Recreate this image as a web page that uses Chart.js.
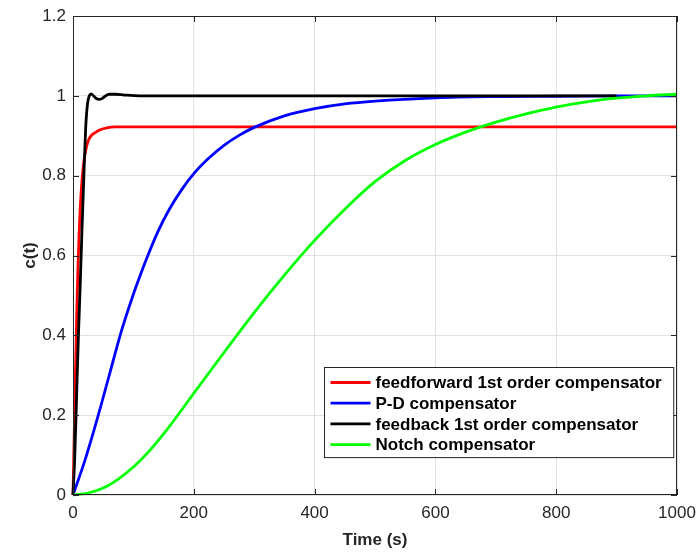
<!DOCTYPE html>
<html>
<head>
<meta charset="utf-8">
<script src="https://cdn.jsdelivr.net/npm/chart.js@4.4.0/dist/chart.umd.min.js"></script>
<style>
  html, body { margin: 0; padding: 0; background: #fff; }
  #wrap { width: 697px; height: 553px; }
</style>
</head>
<body>
<div id="wrap"><canvas id="chart" width="697" height="553"></canvas></div>
<script>
// step responses (time in s, c(t))
const seriesNames = [
  'feedforward 1st order compensator',
  'P-D compensator',
  'feedback 1st order compensator',
  'Notch compensator',
];

const redT = [0, 2, 4, 6, 8, 10, 12, 15, 18, 22, 26, 30, 36, 45, 56, 70, 100, 1000];
const redC = [0, 0.15, 0.3, 0.44, 0.56, 0.65, 0.72, 0.79, 0.835, 0.87, 0.89, 0.9, 0.907, 0.915, 0.92, 0.922, 0.922, 0.922];

const blueT = [0, 20, 40, 60, 80, 100, 110, 120, 140, 160, 180, 200, 225, 250, 275, 300, 350, 400, 450, 500, 600, 700, 800, 900, 1000];
const blueC = [0, 0.088, 0.19, 0.3, 0.41, 0.503, 0.545, 0.585, 0.658, 0.717, 0.765, 0.805, 0.844, 0.876, 0.901, 0.921, 0.95, 0.968, 0.98, 0.987, 0.995, 0.998, 0.999, 1.0, 1.0];

const blackT = [0, 3, 6, 9, 12, 15, 18, 21, 24, 27, 30, 34, 38, 43, 48, 54, 60, 70, 85, 110, 900];
const blackC = [0, 0.1, 0.25, 0.4, 0.53, 0.67, 0.8, 0.92, 0.98, 1.0, 1.005, 1.0, 0.994, 0.991, 0.993, 1.0, 1.004, 1.004, 1.002, 1.0, 1.0];

const greenT = [0, 25, 50, 75, 100, 125, 150, 175, 200, 250, 300, 350, 400, 450, 500, 550, 600, 650, 700, 750, 800, 850, 900, 950, 1000];
const greenC = [0, 0.005, 0.0175, 0.04, 0.07, 0.108, 0.153, 0.203, 0.255, 0.357, 0.457, 0.551, 0.638, 0.716, 0.785, 0.838, 0.878, 0.909, 0.934, 0.955, 0.972, 0.985, 0.994, 1.0, 1.004];

const seriesColors = ['#ff0000', '#0000ff', '#000000', '#00ff00'];

const xTicks = [0, 200, 400, 600, 800, 1000];
const yTicks = [0, 0.2, 0.4, 0.6, 0.8, 1, 1.2];

const FONT = '"Liberation Sans", Arial, Helvetica, sans-serif';
const AXIS = '#262626';

function toPoints(ts, cs) {
  return ts.map((t, i) => ({ x: t, y: cs[i] }));
}

function makeDataset(i, ts, cs, order) {
  return {
    label: seriesNames[i],
    data: toPoints(ts, cs),
    borderColor: seriesColors[i],
    backgroundColor: seriesColors[i],
    borderWidth: 2.8,
    pointRadius: 0,
    cubicInterpolationMode: 'monotone',
    clip: 3,
    order,
  };
}

// box with inward ticks on all four sides, like the original figure
const boxPlugin = {
  id: 'axisBox',
  afterDatasetsDraw(chart) {
    const { ctx, chartArea: a, scales } = chart;
    const len = 6;
    ctx.save();
    ctx.strokeStyle = AXIS;
    ctx.lineWidth = 1;
    ctx.beginPath();
    xTicks.forEach((v) => {
      const px = Math.round(scales.x.getPixelForValue(v)) + 0.5;
      ctx.moveTo(px, a.bottom); ctx.lineTo(px, a.bottom - len);
      ctx.moveTo(px, a.top); ctx.lineTo(px, a.top + len);
    });
    yTicks.forEach((v) => {
      const py = Math.round(scales.y.getPixelForValue(v)) + 0.5;
      ctx.moveTo(a.left, py); ctx.lineTo(a.left + len, py);
      ctx.moveTo(a.right, py); ctx.lineTo(a.right - len, py);
    });
    ctx.stroke();
    ctx.strokeRect(Math.round(a.left) + 0.5, Math.round(a.top) + 0.5,
      Math.round(a.width) - 1, Math.round(a.height) - 1);
    ctx.restore();
  },
};

// legend box inside the axes, lower right
const legendPlugin = {
  id: 'boxLegend',
  afterDraw(chart) {
    const { ctx, chartArea: a } = chart;
    ctx.save();
    ctx.font = 'bold 17px ' + FONT;
    const textW = Math.max(...seriesNames.map((n) => ctx.measureText(n).width));
    const rowH = 20.7;
    const boxW = 51 + textW + 12;
    const boxH = 15 + rowH * (seriesNames.length - 1) + 13;
    const right = a.right - 4;
    const bottom = a.bottom - 38;
    const left = Math.round(right - boxW) + 0.5;
    const top = Math.round(bottom - boxH) + 0.5;
    ctx.fillStyle = '#fff';
    ctx.fillRect(left, top, boxW, boxH);
    ctx.strokeStyle = AXIS;
    ctx.lineWidth = 1;
    ctx.strokeRect(left, top, boxW, boxH);
    ctx.textBaseline = 'middle';
    seriesNames.forEach((name, i) => {
      const y = top + 15 + i * rowH;
      ctx.strokeStyle = seriesColors[i];
      ctx.lineWidth = 2.8;
      ctx.beginPath();
      ctx.moveTo(left + 6, y);
      ctx.lineTo(left + 46, y);
      ctx.stroke();
      ctx.fillStyle = '#000';
      ctx.fillText(name, left + 51, y + 1);
    });
    ctx.restore();
  },
};

const ctx = document.getElementById('chart').getContext('2d');
new Chart(ctx, {
  type: 'line',
  data: {
    datasets: [
      makeDataset(0, redT, redC, 4),
      makeDataset(1, blueT, blueC, 3),
      makeDataset(2, blackT, blackC, 2),
      makeDataset(3, greenT, greenC, 1),
    ],
  },
  options: {
    responsive: false,
    animation: false,
    layout: { padding: { left: 0, right: 20, top: 16, bottom: 0 } },
    plugins: {
      legend: { display: false },
      tooltip: { enabled: false },
    },
    scales: {
      x: {
        type: 'linear',
        min: 0,
        max: 1000,
        afterBuildTicks: (s) => { s.ticks = xTicks.map((v) => ({ value: v })); },
        afterFit: (s) => { s.height = 58; s.paddingLeft = 0; s.paddingRight = 0; },
        ticks: {
          color: AXIS,
          padding: 8,
          maxRotation: 0,
          font: { family: FONT, size: 17 },
          callback: (v) => String(v),
        },
        grid: { color: '#e2e2e2', drawTicks: false },
        border: { display: false },
        title: {
          display: true,
          text: 'Time (s)',
          color: AXIS,
          font: { family: FONT, size: 17, weight: 'bold' },
          padding: { top: 0, bottom: 2 },
        },
      },
      y: {
        type: 'linear',
        min: 0,
        max: 1.2,
        afterBuildTicks: (s) => { s.ticks = yTicks.map((v) => ({ value: v })); },
        afterFit: (s) => { s.width = 73; s.paddingTop = 0; s.paddingBottom = 0; },
        ticks: {
          color: AXIS,
          padding: 7,
          font: { family: FONT, size: 17 },
          callback: (v) => String(Number(v.toFixed(1))),
        },
        grid: { color: '#e2e2e2', drawTicks: false },
        border: { display: false },
        title: {
          display: true,
          text: 'c(t)',
          color: AXIS,
          font: { family: FONT, size: 17, weight: 'bold' },
          padding: { top: 20, bottom: 0 },
        },
      },
    },
  },
  plugins: [boxPlugin, legendPlugin],
});
</script>
</body>
</html>
